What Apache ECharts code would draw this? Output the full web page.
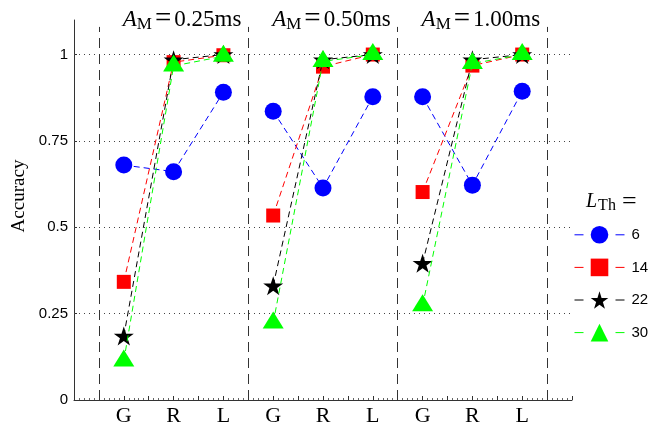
<!DOCTYPE html>
<html>
<head>
<meta charset="utf-8">
<script src="https://cdn.jsdelivr.net/npm/echarts@6/dist/echarts.min.js"></script>
<style>html,body{margin:0;padding:0;background:#fff}#c{width:652px;height:427px}</style>
</head>
<body>
<div id="c"></div>
<script>
// ---- data ----
const categories = ['G', 'R', 'L'];
const panelLabels = ['0.25ms', '0.50ms', '1.00ms'];
const legendNames = ['6', '14', '22', '30'];
const acc6  = [[0.680, 0.661, 0.891], [0.836, 0.614, 0.878], [0.878, 0.622, 0.894]];
const acc14 = [[0.342, 0.978, 0.998], [0.534, 0.965, 1.000], [0.602, 0.968, 1.000]];
const acc22 = [[0.185, 0.985, 1.000], [0.331, 0.985, 1.000], [0.396, 0.985, 1.000]];
const acc30 = [[0.113, 0.967, 0.995], [0.223, 0.980, 1.000], [0.273, 0.974, 1.000]];
const yTicks = [0, 0.25, 0.5, 0.75, 1];
const separatorX = [0.5, 3.5, 6.5, 9.5];

// ---- styling ----
function starPath() {
  let d = '';
  for (let i = 0; i < 10; i++) {
    const r = i % 2 === 0 ? 1 : 0.382;
    const a = -Math.PI / 2 + i * Math.PI / 5;
    d += (i === 0 ? 'M' : 'L') + (r * Math.cos(a)).toFixed(4) + ' ' + (r * Math.sin(a)).toFixed(4) + ' ';
  }
  return 'path://' + d + 'Z';
}
const styles = [
  { color: '#0000ff', symbol: 'circle', size: 17, offset: [0, 0] },
  { color: '#ff0000', symbol: 'rect', size: 14, offset: [0, 0] },
  { color: '#000000', symbol: starPath(), size: [20, 19], offset: [0, 0] },
  { color: '#00ff00', symbol: 'triangle', size: [21, 17], offset: [0, -3] }
];
const allData = [acc6, acc14, acc22, acc30];
const serif = 'Liberation Serif, Times New Roman, serif';
const sans = 'Liberation Sans, Arial, sans-serif';

const series = [];
allData.forEach((acc, si) => {
  const st = styles[si];
  acc.forEach((panel, p) => {
    series.push({
      name: legendNames[si],
      type: 'line',
      data: panel.map((v, i) => [p * categories.length + i + 1, v]),
      symbol: st.symbol,
      symbolSize: st.size,
      symbolOffset: st.offset,
      showSymbol: true,
      lineStyle: { color: st.color, width: 1, type: [6, 4] },
      itemStyle: { color: st.color },
      z: 3 + si,
      animation: false,
      silent: true
    });
  });
});
// dotted grid + dashed panel separators
series.push({
  type: 'line', data: [], silent: true, animation: false,
  markLine: {
    silent: true, symbol: 'none', animation: false, label: { show: false },
    lineStyle: { color: '#444', width: 1, type: [1, 4] },
    data: yTicks.filter(v => v > 0).map(v => ({ yAxis: v }))
  },
  z: 1
});
series.push({
  type: 'line', data: [], silent: true, animation: false,
  markLine: {
    silent: true, symbol: 'none', animation: false, label: { show: false },
    lineStyle: { color: '#333', width: 1, type: [10, 6] },
    data: separatorX.map(x => [{ coord: [x, 0] }, { coord: [x, 1.08] }])
  },
  z: 2
});

const chart = echarts.init(document.getElementById('c'), null, { renderer: 'canvas' });
chart.setOption({
  backgroundColor: '#fff',
  animation: false,
  grid: { left: 74, right: 80, top: 20, bottom: 27, containLabel: false },
  xAxis: {
    type: 'value', min: 0, max: 10, interval: 0.5,
    axisLine: { lineStyle: { color: '#333', width: 1 } },
    axisTick: { inside: true, length: 4, lineStyle: { color: '#333' } },
    minorTick: { show: true, splitNumber: 5, length: 2, lineStyle: { color: '#666' } },
    splitLine: { show: false },
    axisLabel: {
      customValues: [1, 2, 3, 4, 5, 6, 7, 8, 9],
      formatter: v => categories[(Math.round(v) - 1) % categories.length],
      fontFamily: serif, fontSize: 22, color: '#000', margin: 5
    }
  },
  yAxis: {
    type: 'value', min: 0, max: 1.1,
    axisLine: { show: true, lineStyle: { color: '#333', width: 1 } },
    axisTick: { show: true, inside: true, length: 3, customValues: yTicks, lineStyle: { color: '#333' } },
    splitLine: { show: false },
    axisLabel: {
      customValues: yTicks,
      formatter: v => String(v),
      fontFamily: sans, fontSize: 15, color: '#000', margin: 6
    }
  },
  legend: {
    data: legendNames,
    orient: 'vertical',
    left: 569, top: 221,
    itemWidth: 50, itemHeight: 22, itemGap: 15,
    lineStyle: { type: [9, 32], width: 1 },
    textStyle: { fontFamily: sans, fontSize: 15, color: '#000', padding: [0, 0, 0, 2] },
    selectedMode: false
  },
  series: series
});

// text elements placed relative to axes
const graphics = [];
panelLabels.forEach((lab, p) => {
  const px = chart.convertToPixel({ gridIndex: 0 }, [p * categories.length + 1, 0])[0];
  graphics.push({
    type: 'text', left: px - 1, top: 5, silent: true,
    style: {
      text: '{a|A}{s|M}{e|=}{n|' + lab + '}',
      rich: {
        a: { fontFamily: serif, fontStyle: 'italic', fontSize: 23, lineHeight: 28, fill: '#000' },
        s: { fontFamily: serif, fontSize: 17, lineHeight: 11, verticalAlign: 'bottom', fill: '#000' },
        e: { fontFamily: serif, fontSize: 29, lineHeight: 28, padding: [0, 3, 0, 3], fill: '#000' },
        n: { fontFamily: serif, fontSize: 23, lineHeight: 28, fill: '#000' }
      }
    }
  });
});
graphics.push({
  type: 'text', left: 586, top: 189, silent: true,
  style: {
    text: '{a|L}{s|Th}{e|=}',
    rich: {
      a: { fontFamily: serif, fontStyle: 'italic', fontSize: 20, lineHeight: 24, fill: '#000' },
      s: { fontFamily: serif, fontSize: 16, lineHeight: 4, verticalAlign: 'bottom', padding: [0, 0, 0, 1], fill: '#000' },
      e: { fontFamily: serif, fontSize: 26, lineHeight: 24, padding: [0, 0, 0, 6], fill: '#000' }
    }
  }
});
graphics.push({
  type: 'text', silent: true,
  x: 19, y: 196, rotation: Math.PI / 2,
  style: { text: 'Accuracy', fontFamily: serif, fontSize: 19, fill: '#000', align: 'center', verticalAlign: 'middle' }
});
chart.setOption({ graphic: graphics });
</script>
</body>
</html>
